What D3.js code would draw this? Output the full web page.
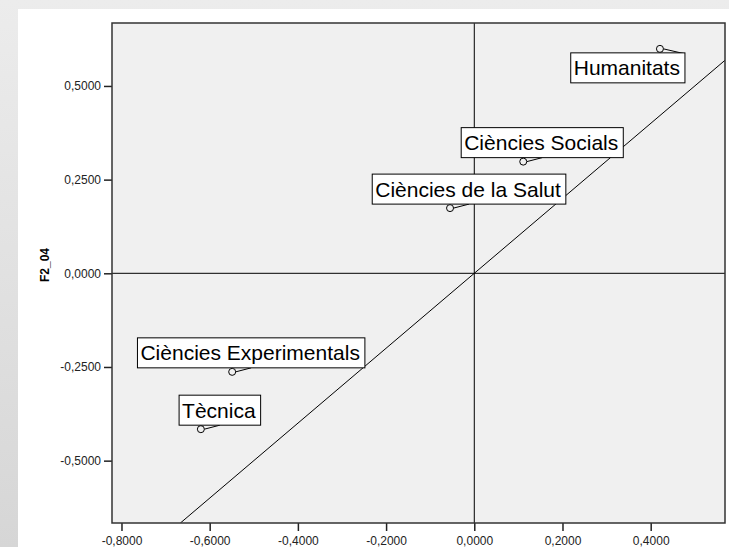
<!DOCTYPE html>
<html><head><meta charset="utf-8">
<script src="https://cdn.jsdelivr.net/npm/d3@7"></script>
<style>body{margin:0;padding:0;overflow:hidden;}svg{display:block;} svg text{font-family:"Liberation Sans",Arial,sans-serif !important;}</style>
</head><body>
<script>
const categories = ["Humanitats","Ciències Socials","Ciències de la Salut","Ciències Experimentals","Tècnica"];
const xValues = [0.421, 0.111, -0.055, -0.549, -0.620];
const yValues = [0.599, 0.298, 0.174, -0.263, -0.416];
const xTicks = [-0.8,-0.6,-0.4,-0.2,0,0.2,0.4];
const yTicks = [-0.5,-0.25,0,0.25,0.5];
const yTitle = "F2_04";

const W=729,H=547;
const FONT="'Liberation Sans',Arial,sans-serif";
const svg=d3.select("body").append("svg").attr("width",W).attr("height",H).attr("font-family",FONT);
const defs=svg.append("defs");
const g1=defs.append("linearGradient").attr("id","bg").attr("x1",0).attr("y1",0).attr("x2",0).attr("y2",1);
g1.append("stop").attr("offset","0%").attr("stop-color","#ececec");
g1.append("stop").attr("offset","100%").attr("stop-color","#d6d6d6");
svg.append("rect").attr("width",W).attr("height",H).attr("fill","url(#bg)");
svg.append("rect").attr("x",18).attr("y",9).attr("width",W-18).attr("height",H-9).attr("fill","#ffffff");

const L=112,R=725,T=23,B=523;
const x=d3.scaleLinear().domain([-0.8215,0.5685]).range([L,R]);
const y=d3.scaleLinear().domain([-0.6664,0.668]).range([B,T]);

svg.append("rect").attr("x",L).attr("y",T).attr("width",R-L).attr("height",B-T).attr("fill","#f0f0f0");

const fmt=d=>d3.format(".4f")(d).replace("−","-").replace(".",",");

const clip=defs.append("clipPath").attr("id","pc");
clip.append("rect").attr("x",L).attr("y",T).attr("width",R-L).attr("height",B-T);
const plot=svg.append("g").attr("clip-path","url(#pc)");

// reference lines
plot.append("line").attr("x1",x(0)).attr("x2",x(0)).attr("y1",T).attr("y2",B).attr("stroke","#000").attr("stroke-width",1);
plot.append("line").attr("x1",L).attr("x2",R).attr("y1",y(0)).attr("y2",y(0)).attr("stroke","#000").attr("stroke-width",1);
// diagonal y = x
const dlo=Math.max(x.domain()[0],y.domain()[0]), dhi=Math.min(x.domain()[1],y.domain()[1])+0.05;
plot.append("line").attr("x1",x(dlo)).attr("y1",y(dlo)).attr("x2",x(dhi)).attr("y2",y(dhi)).attr("stroke","#000").attr("stroke-width",1);

// axes
const xa=svg.append("g").attr("transform",`translate(0,${B})`)
  .call(d3.axisBottom(x).tickValues(xTicks).tickFormat(fmt).tickSize(8).tickSizeOuter(0));
const ya=svg.append("g").attr("transform",`translate(${L},0)`)
  .call(d3.axisLeft(y).tickValues(yTicks).tickFormat(fmt).tickSize(8).tickSizeOuter(0));
[xa,ya].forEach(a=>{
  a.attr("font-family",FONT).attr("font-size",12);
  a.select(".domain").remove();
  a.selectAll("line").attr("stroke","#222").attr("stroke-width",1.5);
  a.selectAll("text").attr("font-size",12).attr("fill","#222");
});
xa.selectAll("text").attr("dy","0.71em").attr("y",13);
ya.selectAll("text").attr("x",-11);

svg.append("text").attr("transform",`translate(49,265) rotate(-90)`).attr("text-anchor","middle")
  .attr("font-size",12).attr("font-weight","bold").attr("fill","#000").text(yTitle);

// plot border
svg.append("rect").attr("x",L).attr("y",T).attr("width",R-L).attr("height",B-T)
  .attr("fill","none").attr("stroke","#333").attr("stroke-width",1.5);

// points and labels
const lg=svg.append("g");
categories.forEach((c,i)=>{
  const px=x(xValues[i]), py=y(yValues[i]);
  const grp=lg.append("g");
  const txt=grp.append("text").attr("font-size",21).attr("fill","#000").text(c);
  const tw=txt.node().getComputedTextLength();
  const bw=tw+8, bh=30;
  let bx=px+19-bw/2, by=py-4-bh, ax=px+19, ay=py-4;
  if(bx+bw>R-5 || by<T){
    bx=px+25-bw; by=py+4; ax=bx+bw; ay=by+1;
  }
  grp.insert("line","text").attr("x1",px+3.5).attr("y1",py).attr("x2",ax).attr("y2",ay).attr("stroke","#000").attr("stroke-width",1);
  grp.insert("rect","text").attr("x",bx).attr("y",by).attr("width",bw).attr("height",bh)
    .attr("fill","#fff").attr("stroke","#000").attr("stroke-width",1);
  txt.attr("x",bx+3).attr("y",by+bh/2).attr("dy","0.36em");
  grp.append("circle").attr("cx",px).attr("cy",py).attr("r",3.5).attr("fill","#f0f0f0").attr("stroke","#000").attr("stroke-width",1);
});
</script>
</body></html>
